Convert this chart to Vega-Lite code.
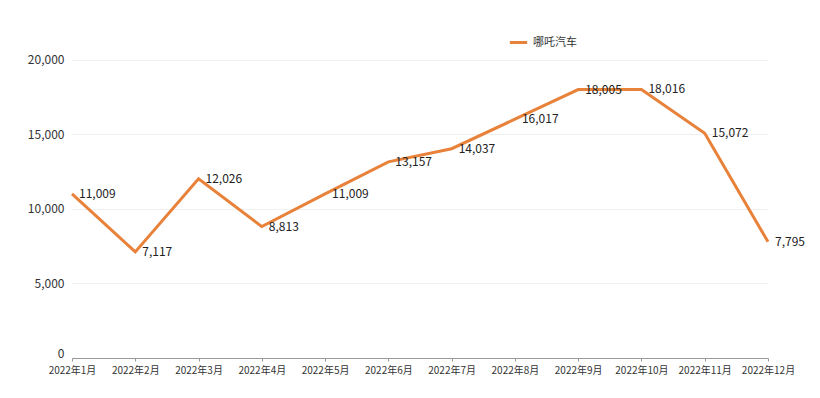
{
  "$schema": "https://vega.github.io/schema/vega-lite/v6.json",
  "autosize": {"type": "none"},
  "width": 696,
  "height": 328,
  "padding": {"left": 72, "top": 30, "right": 52, "bottom": 40},
  "background": "white",
  "config": {
    "font": "Noto Sans CJK SC",
    "view": {"stroke": null}
  },
  "data": {
    "values": [
      {"month": "2022年1月", "brand": "哪吒汽车", "sales": 11009},
      {"month": "2022年2月", "brand": "哪吒汽车", "sales": 7117},
      {"month": "2022年3月", "brand": "哪吒汽车", "sales": 12026},
      {"month": "2022年4月", "brand": "哪吒汽车", "sales": 8813},
      {"month": "2022年5月", "brand": "哪吒汽车", "sales": 11009},
      {"month": "2022年6月", "brand": "哪吒汽车", "sales": 13157},
      {"month": "2022年7月", "brand": "哪吒汽车", "sales": 14037},
      {"month": "2022年8月", "brand": "哪吒汽车", "sales": 16017},
      {"month": "2022年9月", "brand": "哪吒汽车", "sales": 18005},
      {"month": "2022年10月", "brand": "哪吒汽车", "sales": 18016},
      {"month": "2022年11月", "brand": "哪吒汽车", "sales": 15072},
      {"month": "2022年12月", "brand": "哪吒汽车", "sales": 7795}
    ]
  },
  "encoding": {
    "x": {
      "field": "month",
      "type": "ordinal",
      "sort": null,
      "scale": {"type": "point", "padding": 0},
      "axis": {
        "title": null,
        "labelAngle": 0,
        "labelFontSize": 10,
        "labelColor": "#333333",
        "domainColor": "#999999",
        "tickColor": "#999999",
        "tickSize": 3,
        "labelPadding": 4
      }
    },
    "y": {
      "field": "sales",
      "type": "quantitative",
      "scale": {"domain": [0, 22000], "nice": false},
      "axis": {
        "title": null,
        "values": [0, 5000, 10000, 15000, 20000],
        "format": ",d",
        "domain": false,
        "ticks": false,
        "labelFontSize": 12,
        "labelColor": "#333333",
        "labelPadding": 8,
        "labelFlush": true,
        "labelFlushOffset": 2,
        "gridColor": "#f0f0f0"
      }
    }
  },
  "layer": [
    {
      "mark": {"type": "line", "strokeWidth": 3},
      "encoding": {
        "color": {
          "field": "brand",
          "type": "nominal",
          "scale": {"range": ["#E8823A"]},
          "legend": {
            "title": null,
            "orient": "none",
            "legendX": 436,
            "legendY": 2,
            "symbolType": "stroke",
            "symbolStrokeWidth": 3,
            "symbolSize": 300,
            "labelFontSize": 11,
            "labelColor": "#333333"
          }
        }
      }
    },
    {
      "mark": {"type": "text", "align": "left", "baseline": "middle", "dx": 7, "fontSize": 12, "color": "#222222"},
      "encoding": {
        "text": {"field": "sales", "type": "quantitative", "format": ",d"}
      }
    }
  ]
}
